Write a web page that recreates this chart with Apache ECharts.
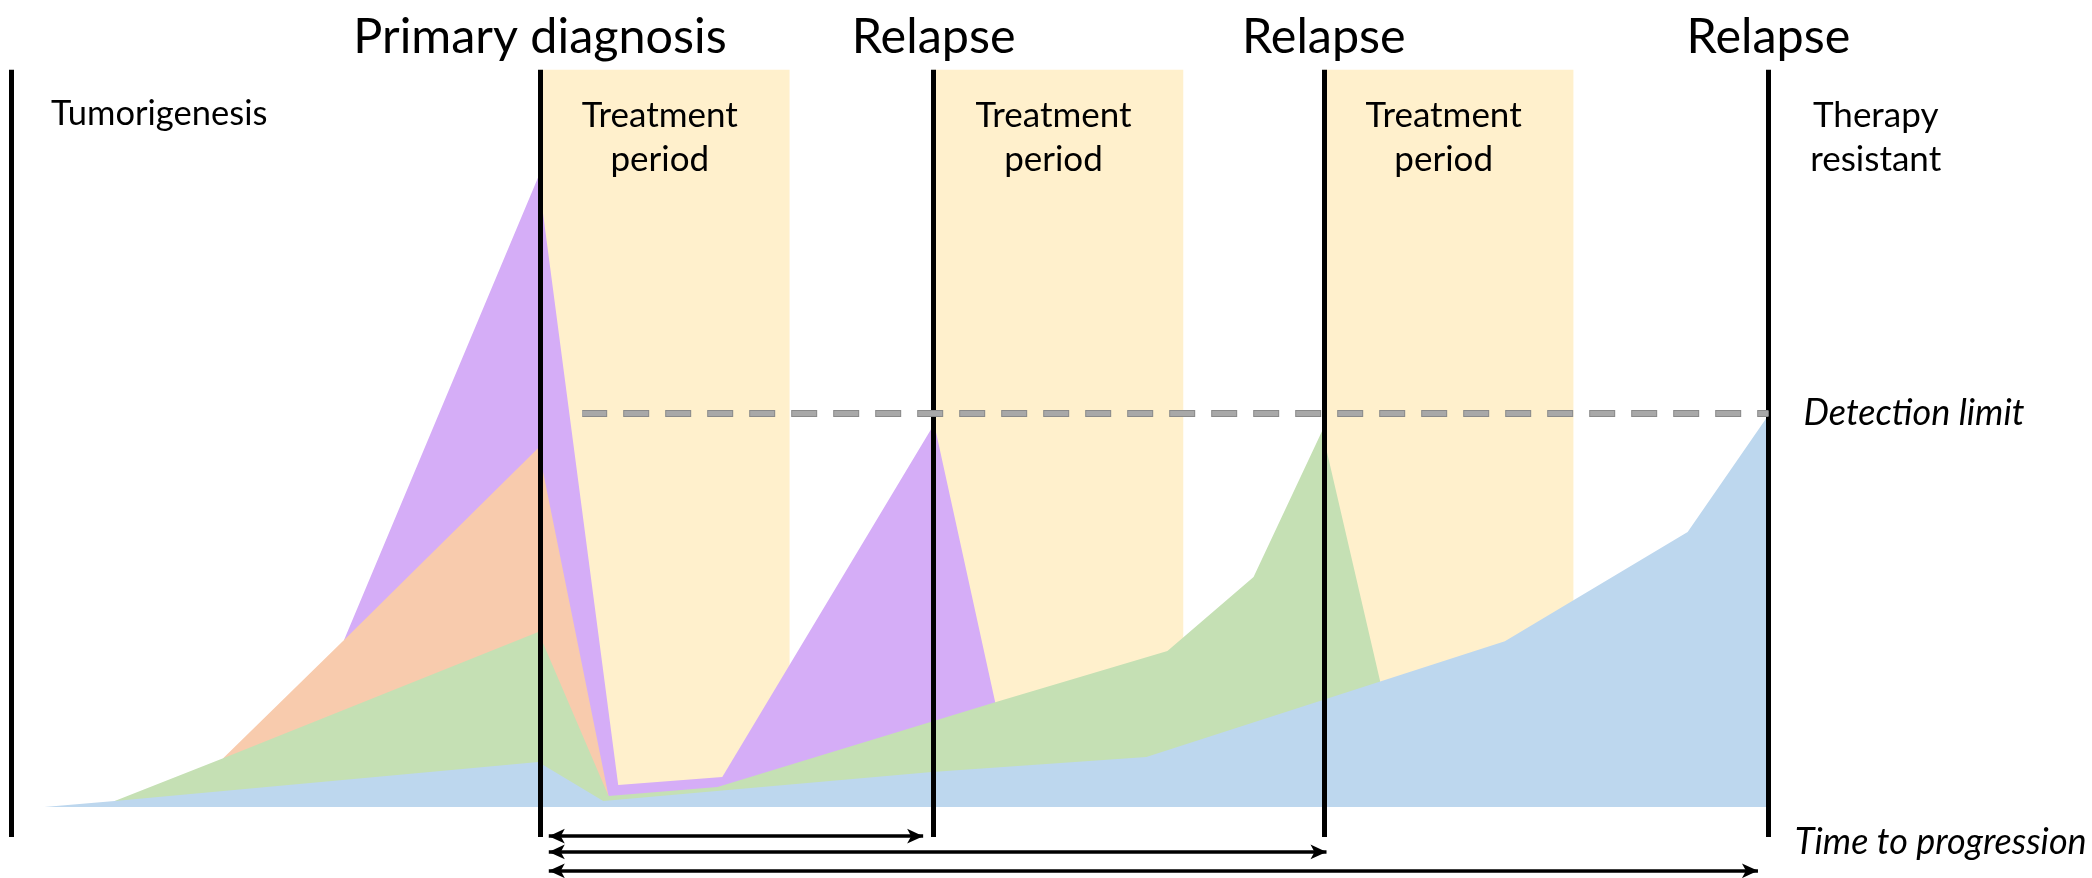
<!DOCTYPE html>
<html><head><meta charset="utf-8">
<script src="https://cdn.jsdelivr.net/npm/echarts/dist/echarts.min.js"></script>
<style>html,body{margin:0;padding:0;background:#fff}#c{width:2092px;height:878px}</style>
</head><body><div id="c"></div>
<script>
// ---- data (time in arbitrary units, tumour burden with detection limit = 100) ----
const eventTimes = [0, 30.1, 52.5, 74.7, 100];
const eventLabels = ['', 'Primary diagnosis', 'Relapse', 'Relapse', 'Relapse'];
const treatmentStarts = [30.1, 52.5, 74.7];
const treatmentEnds = [44.3, 66.7, 88.9];
const treatmentLabel = 'Treatment\nperiod';
const detectionLimit = 100;
const detectionStart = 32.5;
const detectionEnd = 100;
const detectionLabel = 'Detection limit';

// clone sizes (cumulative top of each stacked layer)
const blueX   = [1.9, 5.9, 30.0, 33.7, 52.4, 64.6, 85.0, 95.4, 100];
const blueY   = [0, 1.5, 11.4, 1.5, 8.9, 12.7, 42.1, 69.8, 99.5];
const greenX  = [5.9, 12.07, 30.0, 34.0, 40.2, 56.0, 65.8, 70.7, 74.6, 77.9];
const greenY  = [1.5, 12.4, 44.4, 2.8, 5.1, 26.6, 39.6, 58.4, 95.4, 32.0];
const orangeX = [12.07, 18.95, 30.0, 34.0];
const orangeY = [12.4, 42.4, 91.1, 2.8];
const purpleX = [18.95, 30.0, 34.55, 40.47, 52.53, 56.0];
const purpleY = [42.4, 159.9, 5.6, 7.6, 97.2, 26.6];

// time-to-progression arrows
const arrowStart = [30.6, 30.6, 30.6];
const arrowEnd = [51.9, 74.85, 99.4];
const arrowLevel = [-7.4, -11.4, -16.2];
const arrowLabel = 'Time to progression';

// side notes
const phaseNotes = ['Tumorigenesis', 'Therapy\nresistant'];

// ---- styles ----
const FONT = 'Lato, "Open Sans", sans-serif';
const LINE_TOP = 187.1, LINE_BOTTOM = -7.6;
const colors = {purple:'#D5ADF7', orange:'#F8CBAD', green:'#C5E0B4', blue:'#BDD7EE', yellow:'#FFF0CC'};

const zip = (xs, ys) => xs.map((x, i) => [x, ys[i]]);
function areaSeries(name, xs, ys, color) {
  return {
    name, type: 'line', data: zip(xs, ys), showSymbol: false, symbol: 'none',
    lineStyle: {width: 0, opacity: 0}, areaStyle: {color, opacity: 1},
    silent: true, animation: false, z: 2
  };
}

const eventLines = eventTimes.map((t, i) => [
  {coord: [t, LINE_BOTTOM], name: eventLabels[i],
   label: {show: !!eventLabels[i]}},
  {coord: [t, LINE_TOP]}
]);
const dashLines = [
  [{coord: [detectionStart, detectionLimit], lineStyle: {color: '#8a8a8a', width: 7, type: [26, 16], dashOffset: 1}, label: {show: false}},
   {coord: [detectionEnd, detectionLimit]}],
  [{coord: [detectionStart, detectionLimit], name: detectionLabel,
    lineStyle: {color: '#a8a8a8', width: 5, type: [24, 18]},
    label: {show: true, position: 'end', distance: 35, formatter: '{b}', fontStyle: 'italic', fontSize: 36, color: '#000', fontFamily: FONT}},
   {coord: [detectionEnd, detectionLimit]}]
];
const arrows = arrowStart.map((s, i) => [
  {coord: [s, arrowLevel[i]], label: {show: false}},
  {coord: [arrowEnd[i], arrowLevel[i]]}
]);

const option = {
  backgroundColor: '#fff',
  animation: false,
  grid: {left: 11, top: 58.4, width: 1757.5, height: 817.55, outerBoundsMode: 'none', containLabel: false},
  xAxis: {type: 'value', min: 0, max: 100, show: false},
  yAxis: {type: 'value', min: -17.5, max: 190, show: false},
  series: [
    {
      name: 'treatment', type: 'line', data: [], silent: true,
      markArea: {
        silent: true,
        itemStyle: {color: colors.yellow},
        label: {show: true, position: 'insideTop', distance: 24, fontSize: 35, lineHeight: 44,
                color: '#000', fontFamily: FONT, offset: [-5, 0]},
        data: treatmentStarts.map((s, i) => [
          {xAxis: s, yAxis: 0, name: treatmentLabel}, {xAxis: treatmentEnds[i], yAxis: LINE_TOP}
        ])
      }
    },
    areaSeries('clone D', purpleX, purpleY, colors.purple),
    areaSeries('clone C', orangeX, orangeY, colors.orange),
    areaSeries('clone B', greenX, greenY, colors.green),
    areaSeries('clone A', blueX, blueY, colors.blue),
    {
      name: 'lines', type: 'line', data: [], silent: true,
      markLine: {
        silent: true, symbol: 'none', animation: false,
        lineStyle: {color: '#000', width: 5, type: 'solid'},
        label: {show: true, position: 'end', distance: 8, formatter: '{b}', fontSize: 48.5, color: '#000', fontFamily: FONT},
        emphasis: {disabled: true},
        data: eventLines.concat(dashLines)
      }
    },
    {
      name: 'arrows', type: 'line', data: [], silent: true,
      markLine: {
        silent: true, symbol: ['arrow', 'arrow'], symbolSize: [11, 16], animation: false,
        lineStyle: {color: '#000', width: 3.5, type: 'solid'},
        label: {show: false},
        emphasis: {disabled: true},
        data: arrows
      }
    }
  ]
};

const chart = echarts.init(document.getElementById('c'), null, {renderer: 'canvas'});
chart.setOption(option);

const px = (x, y) => chart.convertToPixel({gridIndex: 0}, [x, y]);
const p1 = px(2.28, 176.0);
const p2 = px(106.1, 169.8);
const p3 = px(101.5, -9.1);
chart.setOption({
  graphic: [
    {type: 'text', x: p1[0], y: p1[1], silent: true,
     style: {text: phaseNotes[0], fontSize: 34.5, fontFamily: FONT, fill: '#000', align: 'left', verticalAlign: 'middle'}},
    {type: 'text', x: p2[0], y: p2[1], silent: true,
     style: {text: phaseNotes[1], fontSize: 35, lineHeight: 44, fontFamily: FONT, fill: '#000', align: 'center', verticalAlign: 'middle'}},
    {type: 'text', x: p3[0], y: p3[1], silent: true,
     style: {text: arrowLabel, fontSize: 36, fontStyle: 'italic', fontFamily: FONT, fill: '#000', align: 'left', verticalAlign: 'middle'}}
  ]
});
</script></body></html>
